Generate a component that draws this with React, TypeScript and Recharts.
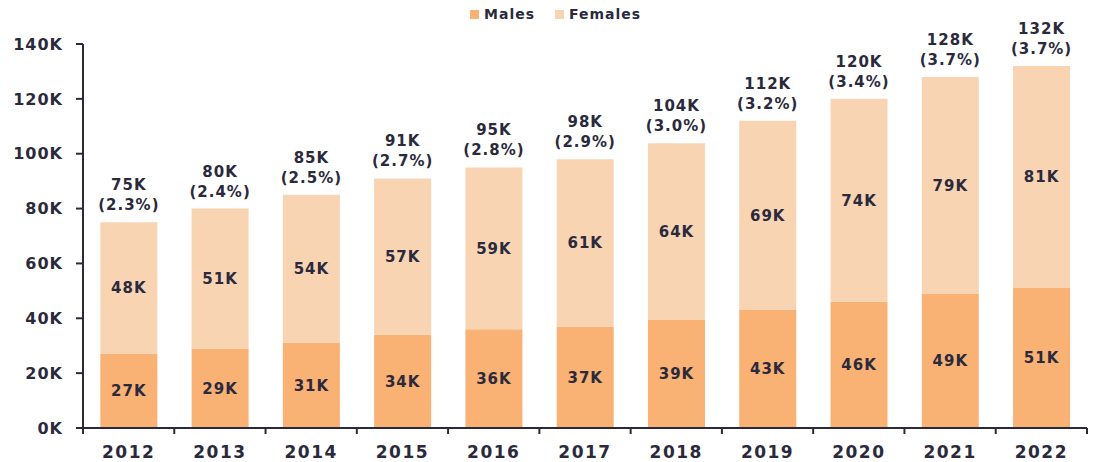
import React from "react";
import {Bar, BarChart, LabelList, Legend, XAxis, YAxis} from 'recharts';

const years = ['2012', '2013', '2014', '2015', '2016', '2017', '2018', '2019', '2020', '2021', '2022'];
const males = [27, 29, 31, 34, 36, 37, 39.4, 43, 46, 49, 51];
const females = [48, 51, 54, 57, 59, 61, 64.4, 69, 74, 79, 81];
const totals = [75, 80, 85, 91, 95, 98, 104, 112, 120, 128, 132];
const shares = ['2.3%', '2.4%', '2.5%', '2.7%', '2.8%', '2.9%', '3.0%', '3.2%', '3.4%', '3.7%', '3.7%'];
const yTicks = [0, 20, 40, 60, 80, 100, 120, 140];
const seriesOrder = ['males', 'females'];

const data = years.map((year, i) => ({year, males: males[i], females: females[i]}));

const W = 1094;
const H = 462;
const LEG_H = 18;
const M = {top: 44 - LEG_H, right: 7, bottom: 0, left: 0};
const Y_W = 83;
const BAND = (W - M.left - M.right - Y_W) / years.length;

const FONT = '"DejaVu Sans", sans-serif';
const INK = '#2a2a3c';
const MALE = '#F9B174';
const FEMALE = '#F9D4B3';

const fmtK = (v: any) => `${Math.round(Number(v))}K`;

const XTick = (props: any) => {
  const {x, y, payload, index} = props;
  const last = index === years.length - 1;
  return (
    <g>
      <line x1={x - BAND / 2} x2={x - BAND / 2} y1={y} y2={y + 6} stroke={INK} strokeWidth={2} />
      {last && <line x1={x + BAND / 2} x2={x + BAND / 2} y1={y} y2={y + 6} stroke={INK} strokeWidth={2} />}
      <text x={x} y={y + 30} textAnchor="middle" fill={INK} fontFamily={FONT} fontWeight={700}
            fontSize={17} letterSpacing={1.5}>{payload.value}</text>
    </g>
  );
};

const TotalLabel = (props: any) => {
  const {x, y, width, index} = props;
  const cx = x + width / 2;
  return (
    <text textAnchor="middle" fill={INK} fontFamily={FONT} fontWeight={700} fontSize={15} letterSpacing={1}>
      <tspan x={cx} y={y - 32}>{totals[index]}K</tspan>
      <tspan x={cx} y={y - 12}>({shares[index]})</tspan>
    </text>
  );
};

const LegendBox = (props: any) => {
  const items = [...(props.payload || [])].sort(
    (a: any, b: any) => seriesOrder.indexOf(a.dataKey) - seriesOrder.indexOf(b.dataKey));
  return (
    <div style={{display: 'flex', gap: 20, fontFamily: FONT, fontWeight: 700, fontSize: 14, color: INK,
      letterSpacing: 1, height: LEG_H, alignItems: 'center'}}>
      {items.map((p: any) => (
        <div key={p.value} style={{display: 'flex', alignItems: 'center', gap: 5}}>
          <span style={{width: 9, height: 9, background: p.color, display: 'inline-block'}} />
          <span>{p.value}</span>
        </div>
      ))}
    </div>
  );
};

const App = () => {
  return (
    <div style={{position: 'absolute', left: 0, top: 0}}>
      <BarChart width={W} height={H} data={data} margin={M} barCategoryGap="19%">
        <Legend verticalAlign="top" content={LegendBox}
                wrapperStyle={{top: 5, left: 470, width: 'auto', height: LEG_H}} />
        <XAxis dataKey="year" height={34} tickLine={false} tickSize={0} tickMargin={0}
               axisLine={{stroke: INK, strokeWidth: 2}} tick={<XTick />} interval={0} />
        <YAxis width={Y_W} domain={[0, 140]} ticks={yTicks} tickFormatter={(v) => `${v}K`}
               axisLine={{stroke: INK, strokeWidth: 2}} tickLine={{stroke: INK, strokeWidth: 2}}
               tickSize={7} tickMargin={13}
               tick={{fill: INK, fontSize: 16, fontWeight: 700, fontFamily: FONT, letterSpacing: 1}} />
        <Bar dataKey="males" name="Males" stackId="a" fill={MALE} isAnimationActive={false}>
          <LabelList dataKey="males" position="center" formatter={fmtK}
                     fill={INK} fontFamily={FONT} fontWeight={700} fontSize={15} letterSpacing={1} />
        </Bar>
        <Bar dataKey="females" name="Females" stackId="a" fill={FEMALE} isAnimationActive={false}>
          <LabelList dataKey="females" position="center" formatter={fmtK}
                     fill={INK} fontFamily={FONT} fontWeight={700} fontSize={15} letterSpacing={1} />
          <LabelList dataKey="females" content={<TotalLabel />} />
        </Bar>
      </BarChart>
    </div>
  );
};

export default App;
